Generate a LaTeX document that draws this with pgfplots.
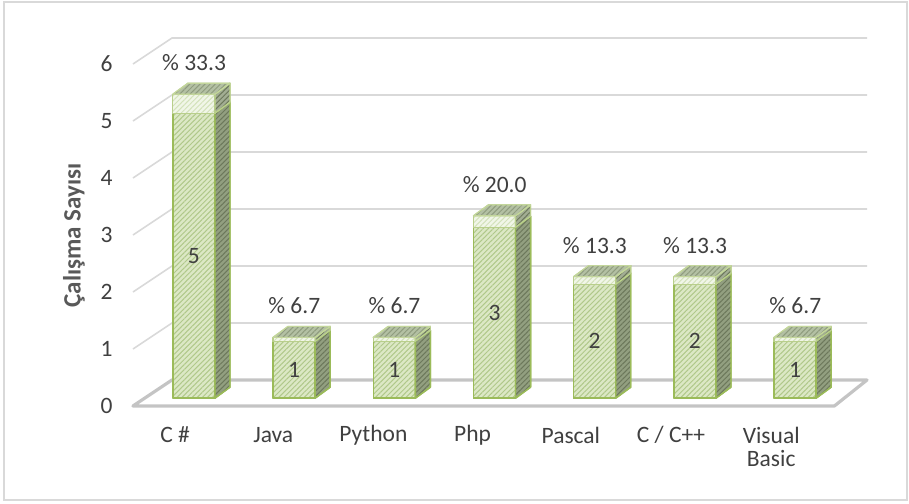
\documentclass[border=0pt]{standalone}
\usepackage{fontspec}
\setmainfont{Carlito}
\usepackage{pgfplots}
\usepackage{pgfplotstable}
\pgfplotsset{compat=1.18}
\usetikzlibrary{patterns.meta}
\definecolor{txt}{HTML}{404040}
\definecolor{ttl}{HTML}{595959}
\definecolor{gridc}{HTML}{D9D9D9}
\definecolor{floorc}{HTML}{C4C4C4}
\definecolor{framec}{HTML}{D9D9D9}
\definecolor{edgegreen}{HTML}{9BBB59}
\definecolor{frontfill}{HTML}{DCE8C5}
\definecolor{fronthatch}{HTML}{B0C88A}
\definecolor{pctfill}{HTML}{F1F6E8}
\definecolor{pcthatch}{HTML}{D3E2BA}
\definecolor{sidefill}{HTML}{929F80}
\definecolor{sidehatch}{HTML}{6C785B}
\definecolor{topfill}{HTML}{B3C0A3}
\definecolor{tophatch}{HTML}{8F9C7E}

\pgfplotstableread{
x count pct
0 5 33.3
1 1 6.7
2 1 6.7
3 3 20.0
4 2 13.3
5 2 13.3
6 1 6.7
}\datatable

\tikzset{
  hatchA/.style={postaction={pattern color=fronthatch, pattern={Lines[angle=45,distance=3.6pt,line width=1pt]}}},
  hatchB/.style={postaction={pattern color=pcthatch, pattern={Lines[angle=45,distance=3.6pt,line width=1pt]}}},
  hatchC/.style={postaction={pattern color=sidehatch, pattern={Lines[angle=45,distance=3.6pt,line width=1pt]}}},
  hatchD/.style={postaction={pattern color=tophatch, pattern={Lines[angle=45,distance=3.6pt,line width=1pt]}}},
}

\begin{document}
\begin{tikzpicture}
\begin{axis}[
  x=100.2pt, y=57pt,
  xmin=-0.5, xmax=6.86, ymin=0, ymax=6.456,
  clip=false,
  axis x line=none,
  axis y line*=left,
  y axis line style={draw=none},
  major tick length=0pt,
  ytick={0,1,2,3,4,5,6},
  yticklabel style={font=\fontsize{23.5}{27}\selectfont, text=txt, xshift=-17pt},
  /pgf/number format/assume math mode=true,
]
% bounding box and frame
\path (axis cs:-1.827,-1.702) rectangle (axis cs:7.245,7.123);
\draw[framec, line width=1.2pt] (axis cs:-1.787,-1.649) rectangle (axis cs:7.225,7.088);

% back wall gridlines
\draw[gridc, line width=1.6pt] (axis cs:-0.5,1) -- (axis cs:-0.111,1.456) -- (axis cs:6.826,1.456);
\draw[gridc, line width=1.6pt] (axis cs:-0.5,2) -- (axis cs:-0.111,2.456) -- (axis cs:6.826,2.456);
\draw[gridc, line width=1.6pt] (axis cs:-0.5,3) -- (axis cs:-0.111,3.456) -- (axis cs:6.826,3.456);
\draw[gridc, line width=1.6pt] (axis cs:-0.5,4) -- (axis cs:-0.111,4.456) -- (axis cs:6.826,4.456);
\draw[gridc, line width=1.6pt] (axis cs:-0.5,5) -- (axis cs:-0.111,5.456) -- (axis cs:6.826,5.456);
\draw[gridc, line width=1.6pt] (axis cs:-0.5,6) -- (axis cs:-0.111,6.456) -- (axis cs:6.826,6.456);
% floor
\draw[floorc, line width=3.2pt, line join=round] (axis cs:-0.5,0) -- (axis cs:6.5,0) -- (axis cs:6.826,0.456) -- (axis cs:-0.111,0.456) -- cycle;

% bars
\pgfplotsinvokeforeach{0,...,6}{
  \pgfplotstablegetelem{#1}{count}\of\datatable
  \pgfmathsetmacro\cnt{\pgfplotsretval}
  \pgfplotstablegetelem{#1}{pct}\of\datatable
  \pgfmathsetmacro\pc{\pgfplotsretval/100}
  \pgfmathsetmacro\xl{#1+0.108-0.21}
  \pgfmathsetmacro\xr{#1+0.108+0.21}
  \pgfmathsetmacro\xlb{\xl+0.15}
  \pgfmathsetmacro\xrb{\xr+0.15}
  \pgfmathsetmacro\yb{0.137}
  \pgfmathsetmacro\ybb{0.137+0.193}
  \pgfmathsetmacro\ya{0.137+\cnt}
  \pgfmathsetmacro\yab{\ya+0.193}
  \pgfmathsetmacro\yt{\ya+\pc}
  \pgfmathsetmacro\ytb{\yt+0.193}
  \addplot[fill=frontfill, draw=edgegreen, line width=1.4pt, line join=round, hatchA]
    coordinates {(\xl,\yb) (\xr,\yb) (\xr,\ya) (\xl,\ya)} -- cycle;
  \addplot[fill=sidefill, draw=edgegreen, line width=1.4pt, line join=round, hatchC]
    coordinates {(\xr,\yb) (\xrb,\ybb) (\xrb,\yab) (\xr,\ya)} -- cycle;
  \addplot[fill=pctfill, draw=edgegreen!70, line width=1.2pt, line join=round, hatchB]
    coordinates {(\xl,\ya) (\xr,\ya) (\xr,\yt) (\xl,\yt)} -- cycle;
  \addplot[fill=sidefill!85!white, draw=edgegreen!70, line width=1.2pt, line join=round, hatchC]
    coordinates {(\xr,\ya) (\xrb,\yab) (\xrb,\ytb) (\xr,\yt)} -- cycle;
  \addplot[fill=topfill, draw=edgegreen!60, line width=1.2pt, line join=round, hatchD]
    coordinates {(\xl,\yt) (\xr,\yt) (\xrb,\ytb) (\xlb,\ytb)} -- cycle;
}

% count labels
\addplot[draw=none, mark=none, nodes near coords, point meta=explicit symbolic,
  every node near coord/.append style={anchor=center, font=\fontsize{23.5}{27}\selectfont, text=txt}]
  table[x expr=\thisrow{x}+0.108, y expr=\thisrow{count}/2+0.137, meta=count] {\datatable};
% percent labels
\addplot[draw=none, mark=none, nodes near coords={\%~\pgfplotspointmeta}, point meta=explicit symbolic,
  every node near coord/.append style={anchor=center, font=\fontsize{23.5}{27}\selectfont, text=txt}]
  table[x expr=\thisrow{x}+0.11, y expr=\thisrow{count}+\thisrow{pct}/100+0.137+0.55, meta=pct] {\datatable};

% category labels
\begin{scope}[every node/.style={font=\fontsize{23.5}{27}\selectfont, text=txt, anchor=center}]
\node at (axis cs:-0.08,-0.509) {C \#};
\node at (axis cs:0.90,-0.509) {Java};
\node at (axis cs:1.90,-0.509) {Python};
\node at (axis cs:2.89,-0.509) {Php};
\node at (axis cs:3.87,-0.509) {Pascal};
\node at (axis cs:4.87,-0.509) {C / C++};
\node[anchor=north, align=center, font=\fontsize{23.5}{23}\selectfont] at (axis cs:5.87,-0.31) {Visual\\Basic};
\end{scope}

% y axis title
\node[rotate=90, font=\fontsize{25}{28}\selectfont\bfseries, text=ttl] at (axis cs:-1.09,2.99) {Çalışma Sayısı};
\end{axis}
\end{tikzpicture}
\end{document}
